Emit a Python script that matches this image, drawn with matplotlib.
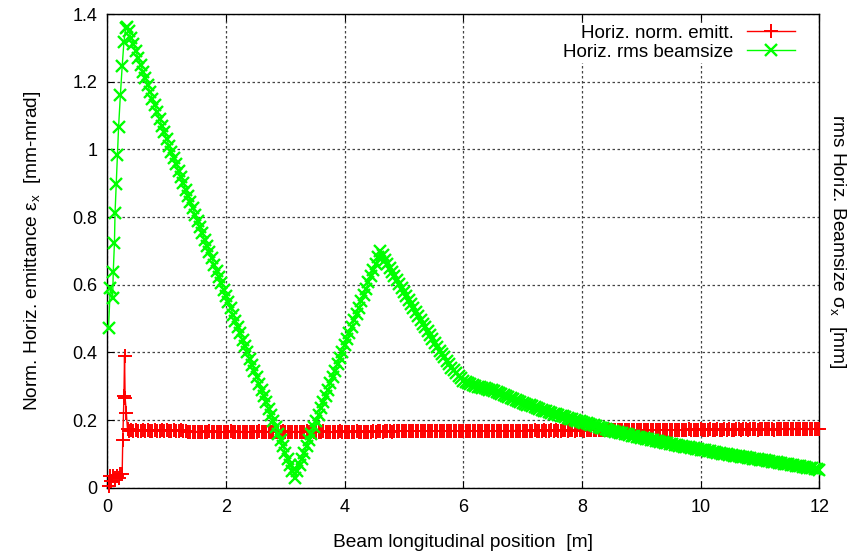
import matplotlib
matplotlib.use("Agg")
import matplotlib.pyplot as plt

# ---------------- data ----------------
# gun / start region (coarse steps)
x_init_emit = [0.02, 0.04, 0.07, 0.10, 0.13, 0.16, 0.19, 0.22, 0.25, 0.26, 0.28, 0.29, 0.30, 0.32, 0.34]
emit_init = [0.005, 0.035, 0.020, 0.035, 0.030, 0.035, 0.030, 0.040, 0.040, 0.142, 0.270, 0.390, 0.266, 0.222, 0.172]

x_init_size = [0.02, 0.05, 0.09, 0.10, 0.12, 0.13, 0.15, 0.17, 0.19, 0.22, 0.25, 0.28, 0.31, 0.33]
size_init = [0.473, 0.591, 0.562, 0.638, 0.724, 0.812, 0.898, 0.982, 1.067, 1.161, 1.245, 1.318, 1.358, 1.362]

# main beamline (fine steps)
x_main = [
    0.36, 0.40, 0.44, 0.48, 0.52, 0.56, 0.60, 0.64, 0.68, 0.72,
    0.76, 0.80, 0.84, 0.88, 0.92, 0.96, 1.00, 1.04, 1.08, 1.12,
    1.16, 1.20, 1.24, 1.28, 1.32, 1.36, 1.40, 1.44, 1.48, 1.52,
    1.56, 1.60, 1.64, 1.68, 1.72, 1.76, 1.80, 1.84, 1.88, 1.92,
    1.96, 2.00, 2.04, 2.08, 2.12, 2.16, 2.20, 2.24, 2.28, 2.32,
    2.36, 2.40, 2.44, 2.48, 2.52, 2.56, 2.60, 2.64, 2.68, 2.72,
    2.76, 2.80, 2.84, 2.88, 2.92, 2.96, 3.00, 3.04, 3.08, 3.12,
    3.16, 3.20, 3.24, 3.28, 3.32, 3.36, 3.40, 3.44, 3.48, 3.52,
    3.56, 3.60, 3.64, 3.68, 3.72, 3.76, 3.80, 3.84, 3.88, 3.92,
    3.96, 4.00, 4.04, 4.08, 4.12, 4.16, 4.20, 4.24, 4.28, 4.32,
    4.36, 4.40, 4.44, 4.48, 4.52, 4.56, 4.60, 4.64, 4.68, 4.72,
    4.76, 4.80, 4.84, 4.88, 4.92, 4.96, 5.00, 5.04, 5.08, 5.12,
    5.16, 5.20, 5.24, 5.28, 5.32, 5.36, 5.40, 5.44, 5.48, 5.52,
    5.56, 5.60, 5.64, 5.68, 5.72, 5.76, 5.80, 5.84, 5.88, 5.92,
    5.96, 6.00, 6.04, 6.08, 6.12, 6.16, 6.20, 6.24, 6.28, 6.32,
    6.36, 6.40, 6.44, 6.48, 6.52, 6.56, 6.60, 6.64, 6.68, 6.72,
    6.76, 6.80, 6.84, 6.88, 6.92, 6.96, 7.00, 7.04, 7.08, 7.12,
    7.16, 7.20, 7.24, 7.28, 7.32, 7.36, 7.40, 7.44, 7.48, 7.52,
    7.56, 7.60, 7.64, 7.68, 7.72, 7.76, 7.80, 7.84, 7.88, 7.92,
    7.96, 8.00, 8.04, 8.08, 8.12, 8.16, 8.20, 8.24, 8.28, 8.32,
    8.36, 8.40, 8.44, 8.48, 8.52, 8.56, 8.60, 8.64, 8.68, 8.72,
    8.76, 8.80, 8.84, 8.88, 8.92, 8.96, 9.00, 9.04, 9.08, 9.12,
    9.16, 9.20, 9.24, 9.28, 9.32, 9.36, 9.40, 9.44, 9.48, 9.52,
    9.56, 9.60, 9.64, 9.68, 9.72, 9.76, 9.80, 9.84, 9.88, 9.92,
    9.96, 10.00, 10.04, 10.08, 10.12, 10.16, 10.20, 10.24, 10.28, 10.32,
    10.36, 10.40, 10.44, 10.48, 10.52, 10.56, 10.60, 10.64, 10.68, 10.72,
    10.76, 10.80, 10.84, 10.88, 10.92, 10.96, 11.00, 11.04, 11.08, 11.12,
    11.16, 11.20, 11.24, 11.28, 11.32, 11.36, 11.40, 11.44, 11.48, 11.52,
    11.56, 11.60, 11.64, 11.68, 11.72, 11.76, 11.80, 11.84, 11.88, 11.92,
    11.96, 12.00,
]

size_main = [
    1.350, 1.330, 1.310, 1.290, 1.270, 1.250, 1.230, 1.210, 1.190, 1.170,
    1.150, 1.130, 1.110, 1.090, 1.070, 1.050, 1.030, 1.011, 0.993, 0.974,
    0.956, 0.937, 0.919, 0.900, 0.881, 0.863, 0.844, 0.826, 0.807, 0.789,
    0.770, 0.752, 0.733, 0.715, 0.696, 0.678, 0.659, 0.641, 0.622, 0.604,
    0.585, 0.567, 0.548, 0.530, 0.511, 0.493, 0.474, 0.456, 0.437, 0.419,
    0.400, 0.381, 0.363, 0.344, 0.326, 0.307, 0.289, 0.270, 0.252, 0.233,
    0.215, 0.196, 0.178, 0.159, 0.141, 0.122, 0.104, 0.085, 0.067, 0.048,
    0.030, 0.049, 0.067, 0.086, 0.104, 0.123, 0.142, 0.160, 0.179, 0.197,
    0.216, 0.235, 0.253, 0.272, 0.290, 0.309, 0.328, 0.346, 0.365, 0.383,
    0.402, 0.421, 0.439, 0.458, 0.476, 0.495, 0.514, 0.532, 0.551, 0.569,
    0.588, 0.607, 0.625, 0.644, 0.662, 0.681, 0.700, 0.687, 0.674, 0.662,
    0.650, 0.637, 0.625, 0.613, 0.601, 0.590, 0.578, 0.566, 0.555, 0.543,
    0.532, 0.520, 0.508, 0.497, 0.485, 0.474, 0.462, 0.451, 0.439, 0.428,
    0.416, 0.405, 0.395, 0.385, 0.375, 0.365, 0.355, 0.347, 0.339, 0.331,
    0.323, 0.315, 0.312, 0.309, 0.306, 0.303, 0.300, 0.299, 0.298, 0.296,
    0.294, 0.292, 0.290, 0.288, 0.286, 0.283, 0.281, 0.278, 0.275, 0.272,
    0.269, 0.266, 0.263, 0.260, 0.256, 0.253, 0.250, 0.248, 0.245, 0.243,
    0.240, 0.238, 0.236, 0.233, 0.231, 0.228, 0.226, 0.224, 0.221, 0.219,
    0.217, 0.215, 0.213, 0.211, 0.209, 0.206, 0.204, 0.202, 0.200, 0.198,
    0.196, 0.194, 0.192, 0.190, 0.188, 0.186, 0.184, 0.182, 0.179, 0.177,
    0.175, 0.173, 0.171, 0.169, 0.167, 0.166, 0.164, 0.162, 0.161, 0.159,
    0.158, 0.156, 0.154, 0.153, 0.151, 0.150, 0.148, 0.146, 0.145, 0.143,
    0.142, 0.140, 0.139, 0.137, 0.136, 0.134, 0.133, 0.131, 0.130, 0.128,
    0.127, 0.126, 0.124, 0.123, 0.121, 0.120, 0.119, 0.117, 0.116, 0.115,
    0.113, 0.112, 0.111, 0.110, 0.108, 0.107, 0.106, 0.105, 0.104, 0.102,
    0.101, 0.100, 0.099, 0.098, 0.096, 0.095, 0.094, 0.093, 0.092, 0.091,
    0.090, 0.089, 0.088, 0.086, 0.085, 0.084, 0.083, 0.082, 0.081, 0.079,
    0.078, 0.077, 0.076, 0.075, 0.073, 0.072, 0.071, 0.070, 0.069, 0.067,
    0.066, 0.065, 0.064, 0.063, 0.061, 0.060, 0.059, 0.058, 0.057, 0.055,
    0.054, 0.053,
]

emit_main = [
    0.168, 0.170, 0.168, 0.171, 0.169, 0.167, 0.170, 0.168, 0.171, 0.169,
    0.168, 0.170, 0.167, 0.169, 0.171, 0.168, 0.170, 0.169, 0.167, 0.170,
    0.168, 0.169, 0.170, 0.168, 0.167, 0.166, 0.166, 0.165, 0.166, 0.166,
    0.166, 0.165, 0.166, 0.166, 0.167, 0.166, 0.165, 0.166, 0.166, 0.166,
    0.165, 0.166, 0.166, 0.167, 0.166, 0.166, 0.165, 0.166, 0.166, 0.166,
    0.166, 0.165, 0.166, 0.166, 0.166, 0.167, 0.166, 0.165, 0.166, 0.166,
    0.166, 0.166, 0.165, 0.166, 0.166, 0.167, 0.166, 0.166, 0.165, 0.166,
    0.166, 0.166, 0.166, 0.165, 0.166, 0.167, 0.166, 0.166, 0.166, 0.165,
    0.166, 0.166, 0.167, 0.166, 0.166, 0.165, 0.166, 0.166, 0.166, 0.167,
    0.166, 0.166, 0.165, 0.166, 0.166, 0.166, 0.167, 0.166, 0.166, 0.166,
    0.165, 0.166, 0.166, 0.167, 0.166, 0.167, 0.167, 0.166, 0.167, 0.167,
    0.167, 0.166, 0.167, 0.167, 0.168, 0.167, 0.167, 0.168, 0.167, 0.168,
    0.168, 0.167, 0.168, 0.168, 0.167, 0.168, 0.168, 0.168, 0.167, 0.168,
    0.168, 0.168, 0.167, 0.168, 0.168, 0.168, 0.169, 0.168, 0.168, 0.168,
    0.168, 0.169, 0.168, 0.168, 0.168, 0.169, 0.168, 0.168, 0.169, 0.168,
    0.168, 0.169, 0.168, 0.169, 0.168, 0.168, 0.169, 0.169, 0.168, 0.169,
    0.169, 0.168, 0.169, 0.169, 0.169, 0.168, 0.169, 0.169, 0.169, 0.169,
    0.169, 0.170, 0.169, 0.169, 0.169, 0.170, 0.169, 0.169, 0.170, 0.169,
    0.170, 0.169, 0.169, 0.170, 0.170, 0.169, 0.170, 0.170, 0.169, 0.170,
    0.170, 0.170, 0.169, 0.170, 0.170, 0.170, 0.171, 0.170, 0.170, 0.170,
    0.170, 0.171, 0.170, 0.170, 0.170, 0.171, 0.170, 0.170, 0.171, 0.170,
    0.170, 0.171, 0.170, 0.171, 0.170, 0.170, 0.171, 0.171, 0.170, 0.171,
    0.171, 0.170, 0.171, 0.171, 0.171, 0.170, 0.171, 0.171, 0.171, 0.171,
    0.171, 0.171, 0.170, 0.171, 0.171, 0.171, 0.172, 0.171, 0.171, 0.171,
    0.171, 0.172, 0.171, 0.171, 0.171, 0.172, 0.171, 0.171, 0.172, 0.171,
    0.171, 0.172, 0.171, 0.172, 0.171, 0.171, 0.172, 0.172, 0.171, 0.172,
    0.172, 0.171, 0.172, 0.172, 0.172, 0.171, 0.172, 0.172, 0.172, 0.172,
    0.172, 0.172, 0.171, 0.172, 0.172, 0.172, 0.173, 0.172, 0.172, 0.172,
    0.172, 0.172, 0.172, 0.173, 0.172, 0.172, 0.172, 0.172, 0.173, 0.172,
    0.172, 0.172,
]

x_ticks = [0, 2, 4, 6, 8, 10, 12]
x_ticklabels = ["0", "2", "4", "6", "8", "10", "12"]
y_ticks = [0, 0.2, 0.4, 0.6, 0.8, 1.0, 1.2, 1.4]
y_ticklabels = ["0", "0.2", "0.4", "0.6", "0.8", "1", "1.2", "1.4"]

label_emit = "Horiz. norm. emitt."
label_size = "Horiz. rms beamsize"

# ---------------- plot ----------------
plt.rcParams["font.family"] = ["Liberation Sans", "DejaVu Sans"]
plt.rcParams["mathtext.fontset"] = "custom"
plt.rcParams["mathtext.rm"] = "Liberation Sans"

FS_TICK = 13
FS_LAB = 13.8
FS_LEG = 13.5
fig = plt.figure(figsize=(8.6, 5.52), dpi=100)
ax = fig.add_axes([0.1248, 0.1165, 0.9527 - 0.1248, 0.9746 - 0.1165])

x_emit = x_init_emit + x_main
y_emit = emit_init + emit_main
x_size = x_init_size + x_main
y_size = size_init + size_main

ax.plot(x_emit, y_emit, color="#ff0000", lw=1.0, marker="+", ms=10, mew=1.4,
        label=label_emit, clip_on=False, zorder=3)
ax.plot(x_size, y_size, color="#00ff00", lw=1.0, marker="x", ms=8.5, mew=1.7,
        label=label_size, clip_on=False, zorder=4)

ax.set_xlim(0, 12)
ax.set_ylim(0, 1.4)
ax.set_xticks(x_ticks)
ax.set_xticklabels(x_ticklabels)
ax.set_yticks(y_ticks)
ax.set_yticklabels(y_ticklabels)
ax.tick_params(direction="in", length=5, width=0.8, top=True, right=True,
               labelsize=FS_TICK, pad=8)
ax.tick_params(axis="y", pad=7)

ax.grid(True, color="#444444", linestyle=(0, (2, 2)), linewidth=0.9)
ax.set_axisbelow(True)
for sp in ax.spines.values():
    sp.set_linewidth(1.0)
    sp.set_color("black")

ax.set_xlabel("Beam longitudinal position  [m]", fontsize=FS_LAB, labelpad=13)
ax.set_ylabel("Norm. Horiz. emittance ε$_\\mathregular{x}$  [mm-mrad]", fontsize=FS_LAB, labelpad=21)

ax2 = ax.twinx()
ax2.set_ylim(0, 1.4)
ax2.set_yticks([])
ax2.set_ylabel("rms Horiz. Beamsize σ$_\\mathregular{x}$  [mm]", fontsize=FS_LAB,
               rotation=-90, labelpad=21)
ax2.yaxis.label.set_y(0.52)
for sp in ax2.spines.values():
    sp.set_visible(False)

leg = ax.legend(loc="upper right", bbox_to_anchor=(1 - 22 / 712, 1 - 9 / 473.7),
                markerfirst=False, numpoints=1, fontsize=FS_LEG,
                frameon=True, facecolor="white", edgecolor="none", framealpha=1.0,
                handlelength=2.6, handletextpad=0.7, labelspacing=0.1,
                borderpad=0.1, borderaxespad=0.0, fancybox=False)
leg.set_zorder(5)

fig.savefig("out.png", dpi=100)
